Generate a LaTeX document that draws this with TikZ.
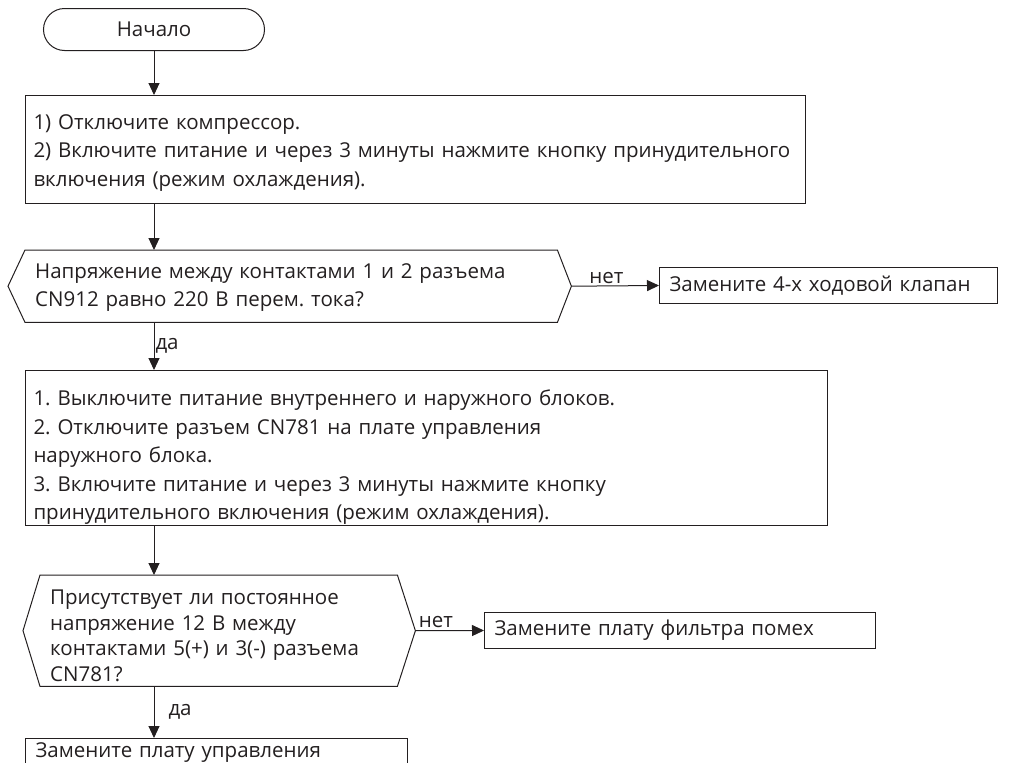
\documentclass[tikz,border=0pt]{standalone}
\usepackage{fontspec}
\setmainfont{Open Sans}
\usetikzlibrary{arrows.meta,calc}
\definecolor{ink}{HTML}{231F20}
\frenchspacing
\newcommand{\topgap}[1]{\rule{0pt}{#1}}
\tikzset{
  txt/.style={text=ink, font=\fontsize{20.5}{28.5}\selectfont},
  proc/.style={txt, draw=ink, line width=1pt, rectangle, align=left, anchor=north west, inner ysep=0pt, inner xsep=8pt},
  dec/.style={txt, rectangle, align=left, anchor=north west, inner ysep=0pt, inner xsep=10pt},
  hexline/.style={draw=ink, line width=1pt},
  term/.style={txt, draw=ink, line width=1pt, rectangle, rounded corners=21pt, anchor=north west, inner sep=0pt},
  conn/.style={draw=ink, line width=1pt, -{Triangle[length=12pt,width=11pt]}},
  lbl/.style={txt, inner sep=2pt},
}
\begin{document}
\begin{tikzpicture}[x=1pt,y=-1pt]
\clip (0,0) rectangle (1010,763);
\useasboundingbox (0,0) rectangle (1010,763);

\node[term, minimum width=221pt, minimum height=42pt] (start) at (43,8) {Начало};

\node[proc, text width=764pt, minimum height=108pt] (b1) at (25,95)
 {\topgap{21.6pt}1) Отключите компрессор.\\2) Включите питание и через 3 минуты нажмите кнопку принудительного\\включения (режим охлаждения).};

\node[dec, text width=512pt, minimum width=532pt, minimum height=72pt] (d1) at (25,250)
 {\topgap{18pt}Напряжение между контактами 1 и 2 разъема\\CN912 равно 220 В перем. тока?};
\coordinate (d1r) at ($(d1.east)+(14,0)$);
\coordinate (d1l) at ($(d1.west)+(-17,0)$);
\path[hexline] (d1.north west) -- (d1.north east) -- (d1r) -- (d1.south east) -- (d1.south west) -- (d1l) -- cycle;

\node[proc, inner xsep=10pt, text width=318pt, minimum height=36pt] (r1) at (659,267) {Замените 4-х ходовой клапан};

\node[proc, text width=786pt, minimum height=155pt] (b2) at (25,370)
 {\topgap{34.6pt}1. Выключите питание внутреннего и наружного блоков.\\2. Отключите разъем CN781 на плате управления\\наружного блока.\\3. Включите питание и через 3 минуты нажмите кнопку\\принудительного включения (режим охлаждения).};

\node[dec, font=\fontsize{20.5}{25.7}\selectfont, text width=337pt, minimum width=357pt, minimum height=111pt] (d2) at (40,575)
 {\topgap{24.6pt}Присутствует ли постоянное\\напряжение 12 В между\\контактами 5(+) и 3(-) разъема\\CN781?};
\coordinate (d2r) at ($(d2.east)+(18,0)$);
\coordinate (d2l) at ($(d2.west)+(-17,0)$);
\path[hexline] (d2.north west) -- (d2.north east) -- (d2r) -- (d2.south east) -- (d2.south west) -- (d2l) -- cycle;

\node[proc, inner xsep=10pt, text width=371pt, minimum height=36pt] (r2) at (484,612) {Замените плату фильтра помех};

\node[proc, inner xsep=10pt, text width=362pt, minimum height=28pt] (r3) at (25,738) {Замените плату управления};

\draw[conn] (start.south) -- (start.south |- b1.north);
\draw[conn] (start.south |- b1.south) -- (start.south |- d1.north);
\draw[conn] (d1r) -- node[lbl, pos=0.4, above] {нет} (r1.west);
\draw[conn] (start.south |- d1.south) -- node[lbl, right, inner xsep=1pt] {да} (start.south |- b2.north);
\draw[conn] (start.south |- b2.south) -- (start.south |- d2.north);
\draw[conn] (d2r) -- node[lbl, pos=0.3, above] {нет} (r2.west);
\draw[conn] (start.south |- d2.south) -- node[lbl, right, inner xsep=14pt] {да} (start.south |- r3.north);
\end{tikzpicture}
\end{document}
